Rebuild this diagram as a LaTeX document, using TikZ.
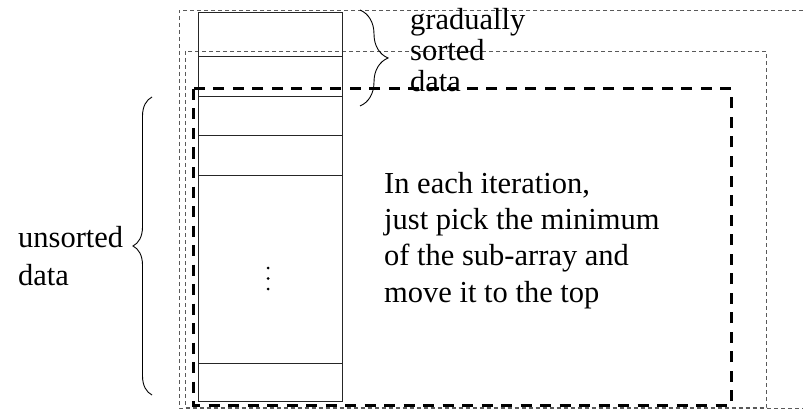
\documentclass[tikz,border=0pt]{standalone}
\usepackage{fontspec}
\setmainfont{Liberation Serif}
\usetikzlibrary{decorations.pathreplacing}
\begin{document}
\begin{tikzpicture}[x=1pt,y=-1pt,
  thindash/.style={draw=black!65,line width=0.9pt,dash pattern=on 4pt off 3pt},
  thickdash/.style={draw=black,line width=3pt,dash pattern=on 11pt off 8.5pt},
  cell/.style={draw=black!85,line width=1pt},
  lbl/.style={font=\fontsize{30.5}{36}\selectfont,inner sep=0pt,anchor=base west},
  brc/.style={draw=black,line width=0.9pt,decorate},
  dot/.style={fill=black,circle,inner sep=0pt,minimum size=3pt}]
\useasboundingbox (0,0) rectangle (803,409);
% outer dashed frames
\draw[thindash] (803,10) -- (179,10) -- (179,408) -- (803,408);
\draw[thindash] (185,51) rectangle (766.5,407.5);
% array
\draw[cell] (198,13) rectangle (342,401);
\foreach \yy in {57,97,136,175,363} \draw[cell] (198,\yy) -- (342,\yy);
\node[dot] (d1) at (268,268) {};
\node[dot] (d2) at (268,278.5) {};
\node[dot] (d3) at (268,289) {};
% thick dashed frame
\draw[thickdash] (193,89) rectangle (731,405);
% braces
\coordinate (b1s) at (360,10);
\coordinate (b1e) at (360,106);
\draw[brc,decoration={brace,amplitude=28pt}] (b1s) -- (b1e);
\coordinate (b2s) at (152,395);
\coordinate (b2e) at (152,97);
\draw[brc,decoration={brace,amplitude=19pt}] (b2s) -- (b2e);
% labels
\node[lbl] (s1) at (410,30) {gradually};
\node[lbl] (s2) at (410,61) {sorted};
\node[lbl] (s3) at (410,92) {data};
\node[lbl] (u1) at (18,247) {unsorted};
\node[lbl] (u2) at (18,285) {data};
\node[lbl] (n1) at (384,193.5) {In each iteration,};
\node[lbl] (n2) at (384,229.7) {just pick the minimum};
\node[lbl] (n3) at (384,265.9) {of the sub-array and};
\node[lbl] (n4) at (384,302) {move it to the top};
\end{tikzpicture}
\end{document}
